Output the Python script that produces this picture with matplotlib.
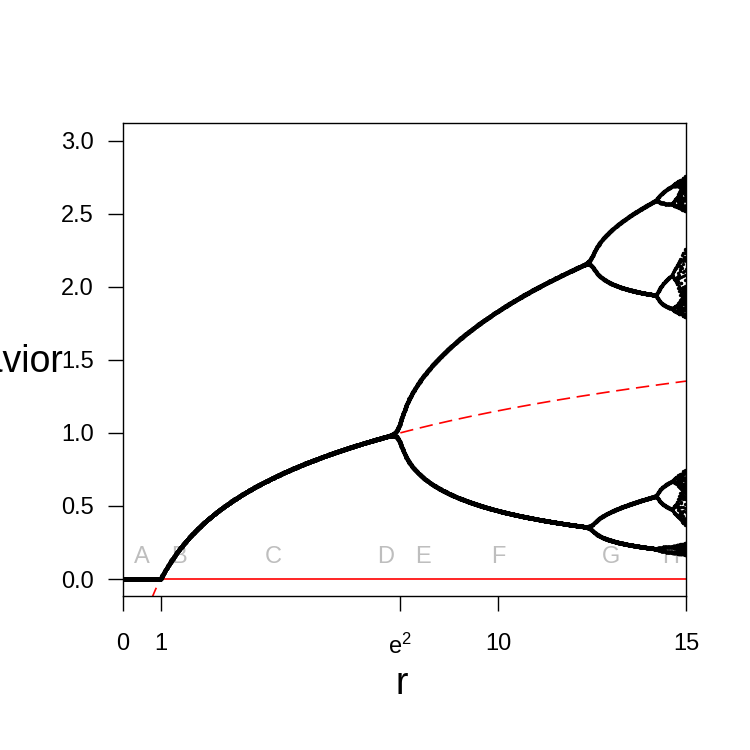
import numpy as np
import matplotlib.pyplot as plt

plt.rcParams['font.family'] = ['Liberation Sans', 'DejaVu Sans']

# model: x[t+1] = r * x[t] * exp(-2 * x[t])
r_min, r_max, r_step = 0.0, 15.0, 0.01
x_start = 0.5
n_transient = 120
n_keep = 30

tick_pos = [0, 1, np.exp(2), 10, 15]
tick_lab = ['0', '1', '$\\mathregular{e^2}$', '10', '15']
ytick_pos = [0.0, 0.5, 1.0, 1.5, 2.0, 2.5, 3.0]

letters = ['A', 'B', 'C', 'D', 'E', 'F', 'G', 'H']
letter_r = [0.5, 1.5, 4.0, 7.0, 8.0, 10.0, 13.0, 14.6]
letter_y = 0.15

rs = np.arange(r_min, r_max + r_step / 2, r_step)
x = np.full_like(rs, x_start)
for _ in range(n_transient):
    x = rs * x * np.exp(-2 * x)
pts_r, pts_x = [], []
for _ in range(n_keep):
    x = rs * x * np.exp(-2 * x)
    pts_r.append(rs.copy())
    pts_x.append(x.copy())
pts_r = np.concatenate(pts_r)
pts_x = np.concatenate(pts_x)

fig = plt.figure(figsize=(7.5, 7.5), dpi=100)
ax = fig.add_axes([123 / 750, 1 - 596 / 750, (686 - 123) / 750, (596 - 123) / 750])

ax.plot([1, 15], [0, 0], color='red', lw=1.2, zorder=1)
r_lo = np.linspace(0.75, 1, 20)
ax.plot(r_lo, np.log(r_lo) / 2, color='red', lw=1.2, ls=(0, (8, 4)), zorder=1)
r_hi = np.linspace(np.exp(2), 15, 200)
ax.plot(r_hi, np.log(r_hi) / 2, color='red', lw=1.2, ls=(0, (8, 4)), zorder=1)

ax.plot(pts_r, pts_x, 'o', color='black', ms=2.4, mew=0, zorder=2)

for lab, rr in zip(letters, letter_r):
    ax.text(rr, letter_y, lab, color='#bebebe', fontsize=17, ha='center', va='center', zorder=0)

ax.set_xlim(0, 15)
ax.set_ylim(-0.116, 3.12)
ax.set_xticks(tick_pos)
ax.set_xticklabels(tick_lab)
ax.set_yticks(ytick_pos)
ax.set_yticklabels(['%.1f' % v for v in ytick_pos])
ax.tick_params(axis='x', length=11, width=1, pad=16, labelsize=17, direction='out')
ax.tick_params(axis='y', length=11, width=1, pad=10, labelsize=17, direction='out')
for s in ax.spines.values():
    s.set_linewidth(1)

fig.text(63 / 750, 1 - 362 / 750, 'behavior', ha='right', va='center', fontsize=27)
fig.text(402 / 750, 1 - 684 / 750, 'r', ha='center', va='center', fontsize=27)

fig.savefig('out.png', dpi=100)
